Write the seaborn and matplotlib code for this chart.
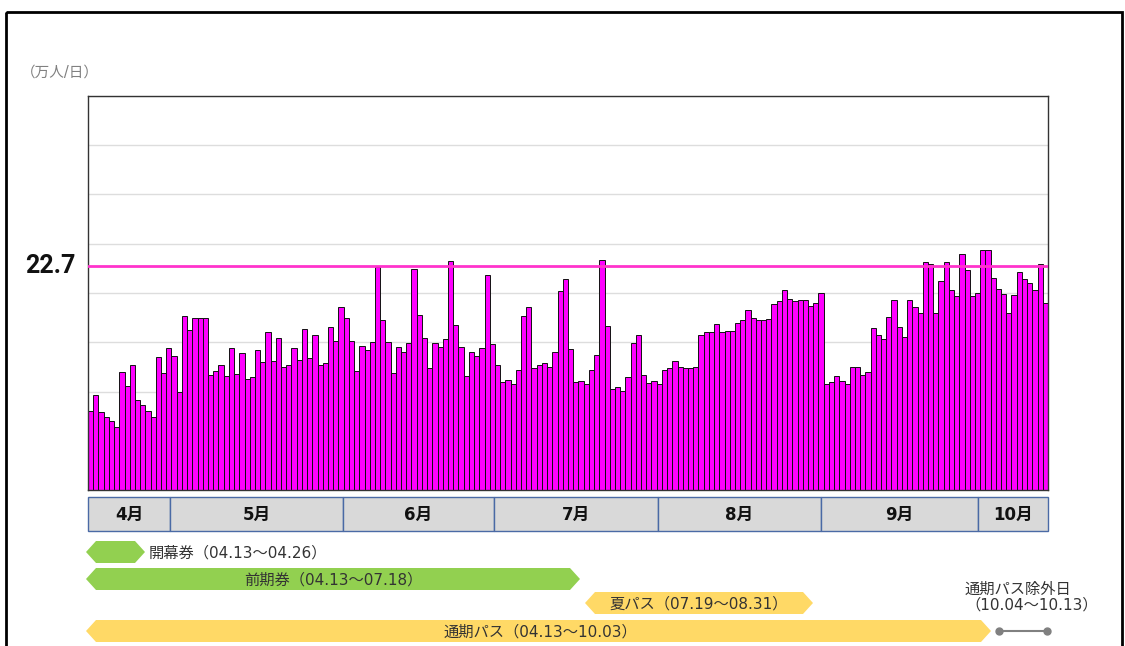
import numpy as np
import pandas as pd
import matplotlib
matplotlib.use("Agg")
import matplotlib.pyplot as plt
from matplotlib.patches import Polygon, Rectangle
import seaborn as sns

# daily visitors (万人/日), 04.13 - 10.13
apr_values = [8.0, 9.6, 7.9, 7.4, 7.0, 6.4, 12.0, 10.6, 12.7, 9.1, 8.6, 8.0, 7.4, 13.5, 11.9, 14.4, 13.6, 9.9]
may_values = [17.7, 16.2, 17.5, 17.5, 17.5, 11.7, 12.1, 12.7, 11.6, 14.4, 11.8, 13.9, 11.3, 11.5, 14.2, 13.0,
              16.0, 13.1, 15.4, 12.5, 12.7, 14.4, 13.2, 16.3, 13.4, 15.7, 12.7, 12.9, 16.5, 15.1, 18.6]
jun_values = [17.5, 15.1, 12.1, 14.6, 14.2, 15.0, 22.6, 17.3, 15.0, 11.9, 14.5, 14.0, 14.9, 22.4, 17.8, 15.4,
              12.4, 14.9, 14.5, 15.3, 23.2, 16.8, 14.5, 11.6, 14.0, 13.6, 14.4, 21.8, 14.8, 12.7]
jul_values = [11.0, 11.2, 10.8, 12.2, 17.7, 18.6, 12.4, 12.7, 12.9, 12.5, 14.0, 20.2, 21.4, 14.3, 11.0, 11.1,
              10.8, 12.2, 13.7, 23.4, 16.6, 10.3, 10.5, 10.1, 11.5, 14.9, 15.7, 11.7, 10.9, 11.1, 10.8]
aug_values = [12.2, 12.4, 13.1, 12.5, 12.4, 12.4, 12.5, 15.7, 16.0, 16.0, 16.9, 16.0, 16.1, 16.1, 17.0, 17.3,
              18.3, 17.5, 17.3, 17.3, 17.4, 18.9, 19.2, 20.3, 19.4, 19.2, 19.3, 19.3, 18.7, 19.0, 20.0]
sep_values = [10.8, 11.0, 11.6, 11.1, 10.8, 12.5, 12.5, 11.7, 12.0, 16.4, 15.7, 15.3, 17.6, 19.3, 16.5, 15.5,
              19.3, 18.6, 18.0, 23.1, 22.9, 18.0, 21.2, 23.1, 20.3, 19.7, 24.0, 22.3, 19.7, 20.0]
oct_values = [24.4, 24.4, 21.5, 20.4, 19.9, 18.0, 19.8, 22.1, 21.4, 21.0, 20.3, 22.9, 19.0]

ref_value = 22.7
month_labels = ["4月", "5月", "6月", "7月", "8月", "9月", "10月"]

# ticket periods
ticket_labels = ["開幕券（04.13～04.26）", "前期券（04.13～07.18）", "夏パス（07.19～08.31）", "通期パス（04.13～10.03）"]
excluded_label = "通期パス除外日\n（10.04～10.13）"

values = apr_values + may_values + jun_values + jul_values + aug_values + sep_values + oct_values
df = pd.DataFrame({"day": np.arange(len(values)), "visitors": values})

sns.set_theme(style="white")
plt.rcParams["font.family"] = ["DejaVu Sans", "Noto Sans CJK JP"]

W, H = 1125, 646
fig = plt.figure(figsize=(W / 100, H / 100), dpi=100)
ax = fig.add_axes([88 / W, 1 - 490 / H, 960 / W, 394 / H])

sns.barplot(data=df, x="day", y="visitors", color="#FF00FF", saturation=1, width=1.0,
            edgecolor="#111111", linewidth=0.7, ax=ax)
ax.axhline(ref_value, color="#FF33CC", lw=2, zorder=5)

ax.set_xlim(-0.5, len(values) - 0.5)
ax.set_ylim(0, 40)
ax.set_yticks(np.arange(0, 41, 5))
ax.yaxis.grid(True, color="#DDDDDD", lw=1)
ax.set_axisbelow(True)
ax.set_xticks([])
ax.set_yticklabels([])
ax.tick_params(left=False, bottom=False)
ax.set_xlabel("")
ax.set_ylabel("")
for s in ax.spines.values():
    s.set_color("#333333")
    s.set_linewidth(1)

ax.annotate(f"{ref_value}", xy=(0, ref_value), xycoords=("axes fraction", "data"),
            xytext=(-12, 0), textcoords="offset pixels", ha="right", va="center",
            fontsize=18, fontweight="bold", color="#111111", family=["Roboto", "DejaVu Sans"])

fig.text(21 / W, 1 - 72 / H, "（万人/日）", fontsize=10.5, color="#808080", ha="left", va="center")

# overlay in pixel coordinates for month strip and ticket arrows
ov = fig.add_axes([0, 0, 1, 1])
ov.set_xlim(0, W)
ov.set_ylim(H, 0)
ov.axis("off")

ov.add_patch(Rectangle((6, 12), 1116, H, fill=False, edgecolor="black", lw=2))

month_edges = [88, 170, 343, 494, 658, 821, 978, 1048]
for i, lab in enumerate(month_labels):
    x0, x1 = month_edges[i], month_edges[i + 1]
    ov.add_patch(Rectangle((x0, 497), x1 - x0, 34, facecolor="#D9D9D9", edgecolor="#4A6AA5", lw=1))
    ov.text((x0 + x1) / 2, 515, lab, ha="center", va="center", fontsize=12, fontweight="bold", color="#111111")


def arrow(x0, x1, yc, color, h=11, tip=10):
    pts = [(x0, yc), (x0 + tip, yc - h), (x1 - tip, yc - h), (x1, yc), (x1 - tip, yc + h), (x0 + tip, yc + h)]
    ov.add_patch(Polygon(pts, closed=True, facecolor=color, edgecolor="none"))


green = "#92D050"
yellow = "#FFD966"
txt = "#333333"
fs = 11

arrow(86, 145, 552, green)
ov.text(149, 553, ticket_labels[0], ha="left", va="center", fontsize=fs, color=txt)

arrow(86, 580, 579, green)
ov.text(333, 580, ticket_labels[1], ha="center", va="center", fontsize=fs, color=txt)

arrow(585, 813, 603, yellow)
ov.text(699, 604, ticket_labels[2], ha="center", va="center", fontsize=fs, color=txt)

arrow(86, 991, 631, yellow)
ov.text(540, 632, ticket_labels[3], ha="center", va="center", fontsize=fs, color=txt)

ov.plot([999, 1047], [631, 631], color="#808080", lw=1.5)
ov.plot([999, 1047], [631, 631], "o", color="#808080", ms=5)
ov.text(965, 597, excluded_label, ha="left", va="center", fontsize=fs, color=txt, linespacing=1.1)

fig.savefig("out.png", dpi=100)
